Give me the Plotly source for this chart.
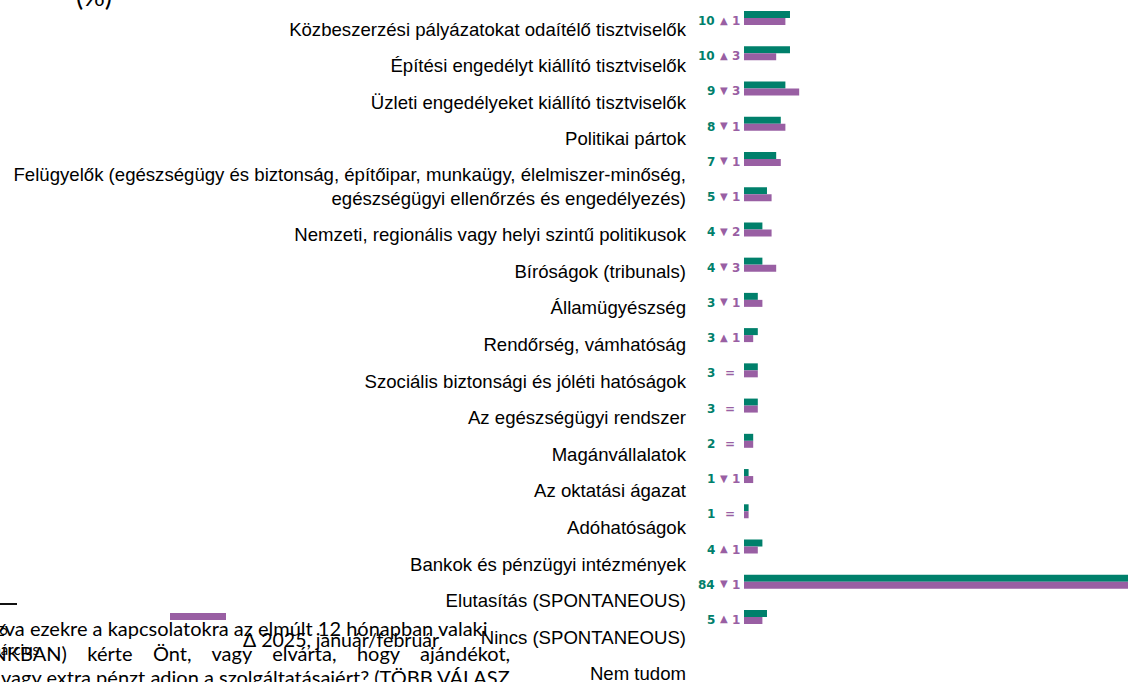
import plotly.graph_objects as go

# Categories, top to bottom
labels = [
    "Közbeszerzési pályázatokat odaítélő tisztviselők",
    "Építési engedélyt kiállító tisztviselők",
    "Üzleti engedélyeket kiállító tisztviselők",
    "Politikai pártok",
    "Felügyelők (egészségügy és biztonság, építőipar, munkaügy, élelmiszer-minőség,<br>egészségügyi ellenőrzés és engedélyezés)",
    "Nemzeti, regionális vagy helyi szintű politikusok",
    "Bíróságok (tribunals)",
    "Államügyészség",
    "Rendőrség, vámhatóság",
    "Szociális biztonsági és jóléti hatóságok",
    "Az egészségügyi rendszer",
    "Magánvállalatok",
    "Az oktatási ágazat",
    "Adóhatóságok",
    "Bankok és pénzügyi intézmények",
    "Elutasítás (SPONTANEOUS)",
    "Nincs (SPONTANEOUS)",
    "Nem tudom",
]

# Current wave (%)
current = [10, 10, 9, 8, 7, 5, 4, 4, 3, 3, 3, 3, 2, 1, 1, 4, 84, 5]
# Previous wave (%)
previous = [9, 7, 12, 9, 8, 6, 6, 7, 4, 2, 3, 3, 2, 2, 1, 3, 85, 4]
# Change in percentage points vs. previous wave
change = [1, 3, -3, -1, -1, -1, -2, -3, -1, 1, 0, 0, 0, -1, 0, 1, -1, 1]

NB = "\u00a0" * 4
question_lines = [
    "Hivatkozva ezekre a kapcsolatokra az elmúlt 12 hónapban valaki",
    NB.join(["(SAJÁT", "ORSZÁGUNKBAN)", "kérte", "Önt,", "vagy", "elvárta,", "hogy", "ajándékot,"]),
    "vagy extra pénzt adjon a szolgáltatásaiért? (TÖBB VÁLASZ",
]
legend_current = "2026<br>január/március"
legend_delta = "Δ 2025, január/február"

GREEN = "#00806B"
PURPLE = "#995FA3"
W, H = 1128, 682

ids = list(range(len(labels)))

fig = go.Figure()
fig.add_trace(go.Bar(y=ids, x=current, orientation="h", marker_color=GREEN,
                     marker_line_width=0, name="current", hoverinfo="skip"))
fig.add_trace(go.Bar(y=ids, x=previous, orientation="h", marker_color=PURPLE,
                     marker_line_width=0, name="previous", hoverinfo="skip"))

# Category labels on their own axis; two-line labels take extra room
LINE_STEP = 0.62
label_pos = []
v = 0.0
for lbl in labels:
    extra = lbl.count("<br>")
    label_pos.append(v + extra * LINE_STEP / 2)
    v += 1 + extra * LINE_STEP
fig.add_trace(go.Scatter(x=[0] * len(labels), y=label_pos, mode="markers",
                         marker=dict(opacity=0), xaxis="x2", yaxis="y2",
                         hoverinfo="skip", showlegend=False))

VAL_FONT = "DejaVu Sans"
annotations = []
for i, (c, d) in enumerate(zip(current, change)):
    annotations.append(dict(x=717 / W, xref="paper", y=i, yref="y", text=f"<b>{c}</b>",
                            showarrow=False, xanchor="right", yshift=-3,
                            font=dict(family=VAL_FONT, size=12, color=GREEN)))
    if d == 0:
        annotations.append(dict(x=730 / W, xref="paper", y=i, yref="y", text="<b>=</b>",
                                showarrow=False, xanchor="center", yshift=-3,
                                font=dict(family=VAL_FONT, size=12, color=PURPLE)))
    else:
        annotations.append(dict(x=724 / W, xref="paper", y=i, yref="y",
                                text="▲" if d > 0 else "▼",
                                showarrow=False, xanchor="center", yshift=-2,
                                font=dict(family=VAL_FONT, size=10, color=PURPLE)))
        annotations.append(dict(x=742 / W, xref="paper", y=i, yref="y", text=f"<b>{abs(d)}</b>",
                                showarrow=False, xanchor="right", yshift=-3,
                                font=dict(family=VAL_FONT, size=12, color=PURPLE)))

# Unit note, question text and legend entries
annotations.append(dict(x=94 / W, xref="paper", y=1 + 5 / H, yref="paper", text="(%)",
                        showarrow=False, xanchor="center", yanchor="middle",
                        font=dict(family="Lato", size=27, color="#000")))
for k, line in enumerate(question_lines):
    xr = 490 if k == 0 else 512
    annotations.append(dict(x=xr / W, xref="paper", y=1 - (628 + 24.5 * k) / H, yref="paper",
                            text=line, showarrow=False, xanchor="right", yanchor="middle",
                            font=dict(family="Lato", size=20, color="#000")))
annotations.append(dict(x=-10 / W, xref="paper", y=1 - 639 / H, yref="paper",
                        text=legend_current, showarrow=False, xanchor="center", yanchor="middle",
                        align="center", font=dict(family="Lato", size=15, color="#000")))
annotations.append(dict(x=341 / W, xref="paper", y=1 - 639 / H, yref="paper",
                        text=legend_delta, showarrow=False, xanchor="center", yanchor="middle",
                        font=dict(family="Lato", size=19.5, color="#000")))

shapes = [
    dict(type="rect", xref="paper", yref="paper", x0=170 / W, x1=226 / W,
         y0=1 - 620 / H, y1=1 - 613 / H, fillcolor=PURPLE, line_width=0),
    dict(type="line", xref="paper", yref="paper", x0=0, x1=17 / W,
         y0=1 - 604 / H, y1=1 - 604 / H, line=dict(color="#111", width=2)),
]

n = len(labels)
fig.update_layout(
    width=W, height=H,
    margin=dict(l=0, r=0, t=0, b=0),
    paper_bgcolor="white", plot_bgcolor="rgba(0,0,0,0)",
    barmode="group", bargap=0.603, bargroupgap=0,
    showlegend=False,
    xaxis=dict(domain=[744 / W, 1], range=[0, 83.5], visible=False, fixedrange=True),
    yaxis=dict(domain=[1 - 634.6 / H, 1 - 0.38 / H], range=[n - 0.5, -0.5],
               visible=False),
    xaxis2=dict(domain=[687 / W, 700 / W], range=[0, 1], visible=False, anchor="y2"),
    yaxis2=dict(domain=[0, 1], anchor="x2", range=[17.84, -0.792],
                tickvals=label_pos, ticktext=labels, showgrid=False, zeroline=False,
                showline=False, ticks="", automargin=False, ticklabeloverflow="allow",
                tickfont=dict(family="Liberation Sans", size=18.6, color="#000")),
    annotations=annotations,
    shapes=shapes,
)

fig.write_html("out.html")
